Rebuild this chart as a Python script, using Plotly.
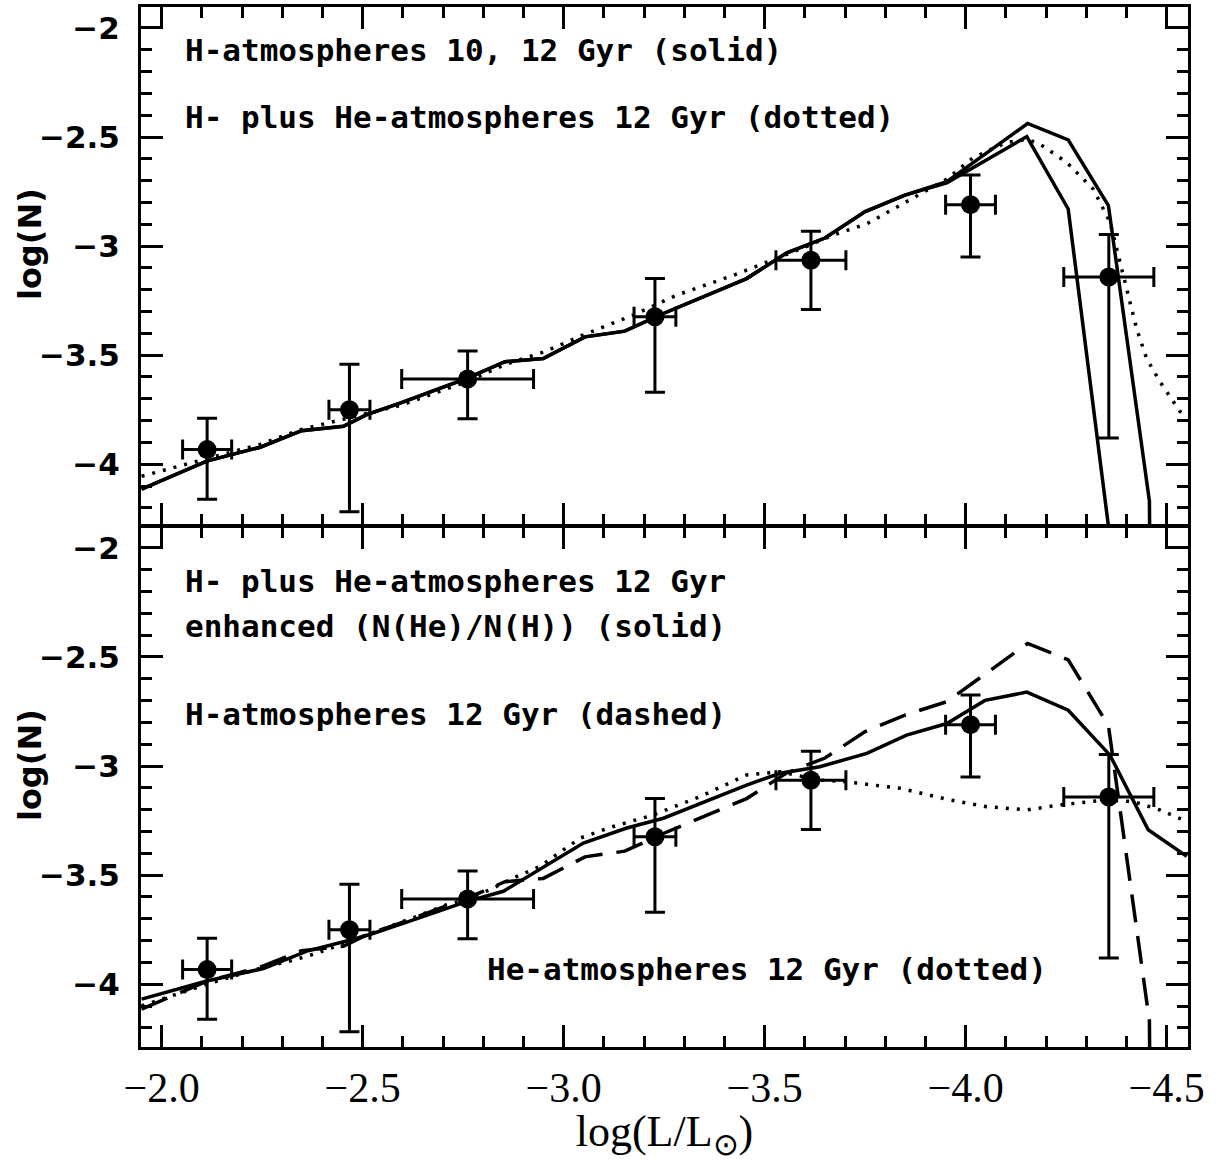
import plotly.graph_objects as go
from plotly.subplots import make_subplots

# ---------------- observed luminosity function ----------------
obs_logL = [-2.113, -2.467, -2.761, -3.227, -3.615, -4.012, -4.356]
obs_logL_err = [0.061, 0.051, 0.164, 0.052, 0.087, 0.062, 0.112]
obs_logN = [-3.933, -3.750, -3.609, -3.324, -3.065, -2.810, -3.142]
obs_logN_err_plus = [0.144, 0.208, 0.128, 0.175, 0.133, 0.136, 0.195]
obs_logN_err_minus = [0.228, 0.468, 0.182, 0.346, 0.226, 0.240, 0.738]

# ---------------- model curves ----------------
# H-atmospheres 12 Gyr
h12_logL = [-1.950, -2.112, -2.245, -2.348, -2.452, -2.510, -2.593, -2.759, -2.854, -2.949,
            -3.053, -3.152, -3.248, -3.455, -3.555, -3.650, -3.750, -3.849, -3.953, -4.154,
            -4.255, -4.355, -4.457, -4.459]
h12_logN = [-4.114, -3.986, -3.922, -3.846, -3.826, -3.773, -3.720, -3.606, -3.530, -3.515,
            -3.416, -3.390, -3.309, -3.149, -3.031, -2.963, -2.842, -2.766, -2.705, -2.438,
            -2.513, -2.814, -4.169, -4.600]

# H-atmospheres 10 Gyr
h10_logL = [-1.950, -2.112, -2.245, -2.348, -2.452, -2.510, -2.593, -2.759, -2.854, -2.949,
            -3.053, -3.152, -3.248, -3.455, -3.555, -3.650, -3.750, -3.849, -3.953, -4.152,
            -4.255, -4.355, -4.362]
h10_logN = [-4.114, -3.986, -3.922, -3.846, -3.826, -3.773, -3.720, -3.606, -3.530, -3.515,
            -3.416, -3.390, -3.309, -3.149, -3.031, -2.963, -2.842, -2.766, -2.710, -2.498,
            -2.830, -4.283, -4.500]

# H- plus He-atmospheres 12 Gyr
hhe12_logL = [-1.950, -2.112, -2.245, -2.348, -2.452, -2.593, -2.759, -2.854, -2.953, -3.044,
              -3.173, -3.281, -3.422, -3.521, -3.588, -3.670, -3.754, -3.837, -3.953, -4.019,
              -4.102, -4.152, -4.185, -4.251, -4.317, -4.359, -4.384, -4.405, -4.425, -4.450,
              -4.483, -4.533, -4.553]
hhe12_logN = [-4.055, -3.977, -3.909, -3.840, -3.795, -3.731, -3.621, -3.543, -3.484, -3.411,
              -3.316, -3.225, -3.134, -3.064, -3.014, -2.950, -2.898, -2.813, -2.693, -2.594,
              -2.525, -2.510, -2.533, -2.616, -2.738, -2.890, -3.073, -3.225, -3.378, -3.515,
              -3.621, -3.758, -3.781]

# H- plus He-atmospheres 12 Gyr, enhanced N(He)/N(H)
enh_logL = [-1.950, -2.112, -2.253, -2.361, -2.460, -2.518, -2.617, -2.760, -2.850, -3.049,
            -3.157, -3.248, -3.455, -3.538, -3.637, -3.754, -3.853, -3.953, -4.048, -4.152,
            -4.255, -4.359, -4.454, -4.550]
enh_logN = [-4.068, -3.985, -3.928, -3.848, -3.802, -3.772, -3.711, -3.620, -3.574, -3.353,
            -3.284, -3.239, -3.087, -3.033, -3.003, -2.942, -2.858, -2.805, -2.699, -2.661,
            -2.744, -2.950, -3.292, -3.414]

# He-atmospheres 12 Gyr
he12_logL = [-1.950, -2.112, -2.253, -2.319, -2.386, -2.460, -2.543, -2.626, -2.709, -2.760,
             -2.817, -2.875, -2.941, -3.041, -3.123, -3.223, -3.339, -3.455, -3.538, -3.637,
             -3.704, -3.837, -3.961, -4.052, -4.152, -4.235, -4.351, -4.417, -4.483, -4.550]
he12_logN = [-4.099, -4.000, -3.922, -3.894, -3.858, -3.808, -3.749, -3.695, -3.635, -3.612,
             -3.566, -3.513, -3.460, -3.330, -3.277, -3.224, -3.140, -3.041, -3.026, -3.064,
             -3.072, -3.102, -3.155, -3.186, -3.201, -3.178, -3.155, -3.163, -3.201, -3.254]

# ---------------- axis ticks ----------------
x_tickvals = [-2.0, -2.5, -3.0, -3.5, -4.0, -4.5]
x_ticktext = ["\u22122.0", "\u22122.5", "\u22123.0", "\u22123.5", "\u22124.0", "\u22124.5"]
y_tickvals = [-2.0, -2.5, -3.0, -3.5, -4.0]
y_ticktext = ["\u22122", "\u22122.5", "\u22123", "\u22123.5", "\u22124"]

# ---------------- figure ----------------
fig = make_subplots(rows=2, cols=1, shared_xaxes=True, vertical_spacing=0)

solid = dict(color="black", width=3.5)
dotted = dict(color="black", width=3.5, dash="3px,8px")
dashed = dict(color="black", width=3.5, dash="28px,14px")


def add_obs(row):
    fig.add_trace(go.Scatter(
        x=obs_logL, y=obs_logN, mode="markers",
        marker=dict(color="black", size=19, symbol="circle"),
        error_x=dict(type="data", array=obs_logL_err, color="black", thickness=3, width=10),
        error_y=dict(type="data", symmetric=False, array=obs_logN_err_plus,
                     arrayminus=obs_logN_err_minus, color="black", thickness=3, width=10),
        showlegend=False), row=row, col=1)


# top panel
fig.add_trace(go.Scatter(x=h10_logL, y=h10_logN, mode="lines", line=solid, showlegend=False), row=1, col=1)
fig.add_trace(go.Scatter(x=h12_logL, y=h12_logN, mode="lines", line=solid, showlegend=False), row=1, col=1)
fig.add_trace(go.Scatter(x=hhe12_logL, y=hhe12_logN, mode="lines", line=dotted, showlegend=False), row=1, col=1)
add_obs(1)

# bottom panel
fig.add_trace(go.Scatter(x=enh_logL, y=enh_logN, mode="lines", line=solid, showlegend=False), row=2, col=1)
fig.add_trace(go.Scatter(x=h12_logL, y=h12_logN, mode="lines", line=dashed, showlegend=False), row=2, col=1)
fig.add_trace(go.Scatter(x=he12_logL, y=he12_logN, mode="lines", line=dotted, showlegend=False), row=2, col=1)
add_obs(2)

axis_common = dict(
    showline=True, linewidth=3, linecolor="black", mirror="allticks",
    ticks="inside", ticklen=22, tickwidth=2.5, tickcolor="black",
    showgrid=False, zeroline=False,
)

x_minor = dict(ticks="inside", ticklen=11, tickwidth=2.5, tickcolor="black",
               tick0=-2.0, dtick=0.1, showgrid=False)
y_minor = dict(ticks="inside", ticklen=11, tickwidth=2.5, tickcolor="black",
               tick0=-2.0, dtick=0.1, showgrid=False)

fig.update_xaxes(range=[-1.9485, -4.553], tickmode="array", tickvals=x_tickvals,
                 ticktext=x_ticktext, minor=x_minor, **axis_common)
fig.update_xaxes(showticklabels=False, row=1, col=1)
fig.update_xaxes(showticklabels=True, row=2, col=1,
                 tickfont=dict(family="Liberation Serif", size=42, color="black"),
                 ticklabelstandoff=2,
                 title=dict(text="log(L/L<sub>\u2299</sub>)",
                            font=dict(family="Liberation Serif", size=44, color="black"),
                            standoff=16))

ytick_font = dict(family="DejaVu Sans", size=31, color="black", weight="bold")
fig.update_yaxes(tickmode="array", tickvals=y_tickvals, ticktext=y_ticktext,
                 minor=y_minor, tickfont=ytick_font, ticklabelstandoff=12,
                 **axis_common)

PL, PR, PT, PB = 141, 1188, 4, 1048
H = PB - PT
# panel boundary at pixel 525; axis lines (3 px) are drawn just outside each domain
top_lo = (PB - 523.5) / H
bot_hi = (PB - 526.5) / H
fig.update_layout(
    yaxis=dict(domain=[top_lo, 1.0], range=[-4.2763, -1.9041]),
    yaxis2=dict(domain=[0.0, bot_hi], range=[-4.2877, -1.9064]),
)

ann_font = dict(family="DejaVu Sans Mono", size=31, color="black", weight="bold")
texts = [
    ("H-atmospheres 10, 12 Gyr (solid)", 183, 47),
    ("H- plus He-atmospheres 12 Gyr (dotted)", 183, 114),
    ("H- plus He-atmospheres 12 Gyr", 183, 580),
    ("enhanced (N(He)/N(H)) (solid)", 183, 625),
    ("H-atmospheres 12 Gyr (dashed)", 183, 714),
    ("He-atmospheres 12 Gyr (dotted)", 485, 970),
]
annotations = []
for txt, px, py in texts:
    annotations.append(dict(
        text=txt, xref="paper", yref="paper",
        x=(px - PL) / (PR - PL), y=(PB - py) / H,
        xanchor="left", yanchor="middle", showarrow=False, font=ann_font))

# y-axis titles
ytitle_font = dict(family="DejaVu Sans", size=32, color="black", weight="bold")
for py in (242, 765):
    annotations.append(dict(
        text="log(N)", xref="paper", yref="paper",
        x=(30 - PL) / (PR - PL), y=(PB - py) / H, textangle=-90,
        xanchor="center", yanchor="middle", showarrow=False, font=ytitle_font))

fig.update_layout(annotations=annotations)

fig.update_layout(
    width=1220, height=1162,
    margin=dict(l=PL, r=1220 - PR, t=PT, b=1162 - PB),
    paper_bgcolor="white", plot_bgcolor="white",
    showlegend=False,
)

fig.write_html("out.html", config={"displayModeBar": False},
               post_script="document.body.style.margin='0';")
